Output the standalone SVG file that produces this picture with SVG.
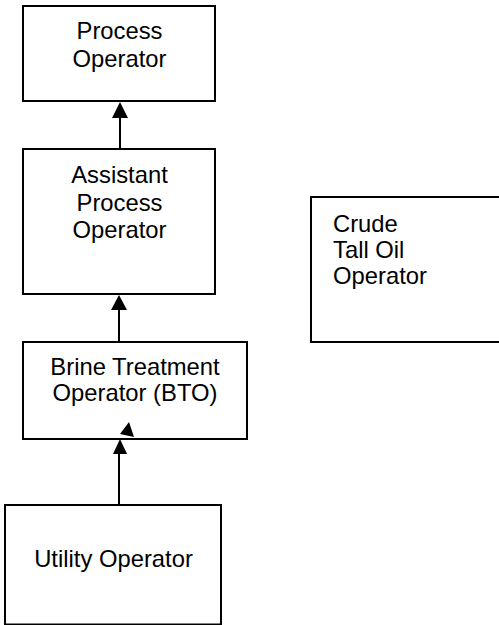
<svg xmlns="http://www.w3.org/2000/svg" width="499" height="625" viewBox="0 0 499 625">
<style>
.box{fill:#fff;stroke:#000;stroke-width:2}
.t{font-family:"Liberation Sans",Arial,sans-serif;font-size:23.8px;fill:#000}
.c{text-anchor:middle}
.ln{stroke:#000;stroke-width:2;fill:none}
.ah{fill:#000}
</style>
<rect width="499" height="625" fill="#fff"/>
<g id="connectors">
<line class="ln" x1="120" y1="149" x2="120" y2="116"/>
<polygon class="ah" points="120,102 112,118 128,118"/>
<line class="ln" x1="119" y1="342" x2="119" y2="306"/>
<polygon class="ah" points="119,295 111,310 127,310"/>
<line class="ln" x1="119" y1="505" x2="119" y2="452"/>
<polygon class="ah" points="120,439 113,454 127,454"/>
</g>
<g id="process-operator">
<rect class="box" x="23" y="6" width="192" height="95"/>
<text class="t c" x="119.5" y="39">Process</text>
<text class="t c" x="119.5" y="66.5">Operator</text>
</g>
<g id="assistant-process-operator">
<rect class="box" x="23" y="149" width="192" height="145"/>
<text class="t c" x="119.5" y="183">Assistant</text>
<text class="t c" x="119.5" y="210.5">Process</text>
<text class="t c" x="119.5" y="238">Operator</text>
</g>
<g id="brine-treatment-operator">
<rect class="box" x="23" y="342" width="224" height="97"/>
<text class="t c" x="135" y="374.5">Brine Treatment</text>
<text class="t c" x="135" y="401">Operator (BTO)</text>
<polygon class="ah" points="129,422 120,434 134,437"/>
</g>
<g id="utility-operator">
<rect class="box" x="5" y="505" width="216" height="119.5"/>
<text class="t c" x="113.5" y="566.5">Utility Operator</text>
</g>
<g id="crude-tall-oil-operator">
<rect class="box" x="311" y="197" width="200" height="145"/>
<text class="t" x="333" y="231.5">Crude</text>
<text class="t" x="333" y="257.5">Tall Oil</text>
<text class="t" x="333" y="283.5">Operator</text>
</g>
</svg>
